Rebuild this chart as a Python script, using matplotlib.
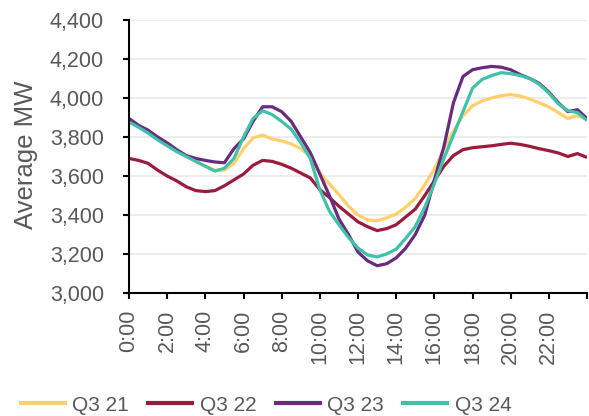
import numpy as np
import matplotlib
matplotlib.use("Agg")
import matplotlib.pyplot as plt

plt.rcParams['font.family'] = ['Liberation Sans', 'DejaVu Sans']

# Half-hourly average demand (MW), 0:00 to 24:00
series_names = ["Q3 21", "Q3 22", "Q3 23", "Q3 24"]
q3_21 = [3885, 3855, 3825, 3790, 3760, 3730, 3700, 3675, 3650, 3630,
         3630, 3665, 3740, 3795, 3810, 3790, 3780, 3765, 3740, 3700,
         3615, 3560, 3505, 3445, 3400, 3375, 3370, 3385, 3405, 3440,
         3485, 3555, 3635, 3740, 3830, 3910, 3960, 3985, 4000, 4012,
         4018, 4010, 3995, 3975, 3955, 3925, 3895, 3910, 3890]
q3_22 = [3690, 3680, 3665, 3630, 3600, 3575, 3545, 3525, 3520, 3525,
         3550, 3580, 3610, 3655, 3680, 3675, 3660, 3640, 3615, 3590,
         3530, 3490, 3445, 3405, 3365, 3340, 3320, 3330, 3350, 3390,
         3430, 3500, 3575, 3650, 3705, 3735, 3745, 3750, 3755, 3762,
         3768, 3762, 3752, 3740, 3730, 3718, 3700, 3715, 3695]
q3_23 = [3895, 3860, 3835, 3800, 3770, 3735, 3705, 3690, 3680, 3672,
         3668, 3740, 3790, 3880, 3955, 3955, 3930, 3880, 3800, 3720,
         3610, 3500, 3380, 3300, 3210, 3165, 3140, 3150, 3180, 3230,
         3300, 3400, 3580, 3750, 3975, 4110, 4145, 4155, 4162, 4158,
         4145, 4120, 4100, 4075, 4030, 3975, 3930, 3940, 3895]
q3_24 = [3877, 3850, 3820, 3785, 3755, 3725, 3700, 3675, 3650, 3625,
         3640, 3690, 3800, 3895, 3935, 3915, 3880, 3840, 3770, 3690,
         3530, 3420, 3350, 3285, 3230, 3195, 3185, 3200, 3225, 3280,
         3340, 3440, 3560, 3690, 3810, 3930, 4050, 4095, 4115, 4130,
         4125, 4115, 4100, 4070, 4025, 3970, 3935, 3925, 3885]

colors = ["#FFD06A", "#9B1B3D", "#6A2A80", "#3EC2A9"]

x_ticks = list(range(0, 25, 2))
x_tick_labels = ["0:00", "2:00", "4:00", "6:00", "8:00", "10:00", "12:00",
                 "14:00", "16:00", "18:00", "20:00", "22:00", ""]
y_ticks = [3000, 3200, 3400, 3600, 3800, 4000, 4200, 4400]
y_tick_labels = ["3,000", "3,200", "3,400", "3,600", "3,800", "4,000", "4,200", "4,400"]

text_color = "#595959"

fig = plt.figure(figsize=(5.89, 4.16), dpi=100)
ax = fig.add_axes([129 / 589, 1 - 293 / 416, 458 / 589, 273 / 416])

hours = np.arange(0, 24.01, 0.5)
for name, vals, c in zip(series_names, [q3_21, q3_22, q3_23, q3_24], colors):
    ax.plot(hours, vals, color=c, linewidth=2.3, label=name, solid_capstyle="butt")

ax.set_xlim(0, 24)
ax.set_ylim(3000, 4400)
ax.set_xticks(x_ticks)
ax.set_xticklabels(x_tick_labels, rotation=90, fontsize=15.5, color=text_color)
ax.set_yticks(y_ticks)
ax.set_yticklabels(y_tick_labels, fontsize=15.5, color=text_color)

ax.grid(axis="y", color="#ebebeb", linewidth=1.3)
ax.set_axisbelow(True)
for s in ["top", "right"]:
    ax.spines[s].set_visible(False)
for s in ["left", "bottom"]:
    ax.spines[s].set_color("black")
    ax.spines[s].set_linewidth(1.5)
ax.tick_params(axis="y", length=4, width=1.5, color="black", pad=14)
ax.tick_params(axis="x", length=4, width=1.5, color="black", pad=8)

fig.text(26 / 589, 1 - 155 / 416, "Average MW", rotation=90, ha="center",
         va="center", fontsize=18.5, color=text_color)

leg = fig.legend(loc="center", bbox_to_anchor=(0.45, 0.026), ncol=4,
                 frameon=False, fontsize=15, handlelength=2.3,
                 handletextpad=0.25, columnspacing=0.85)
for t in leg.get_texts():
    t.set_color(text_color)
for h in leg.get_lines():
    h.set_linewidth(3)

fig.savefig("out.png", dpi=100)
